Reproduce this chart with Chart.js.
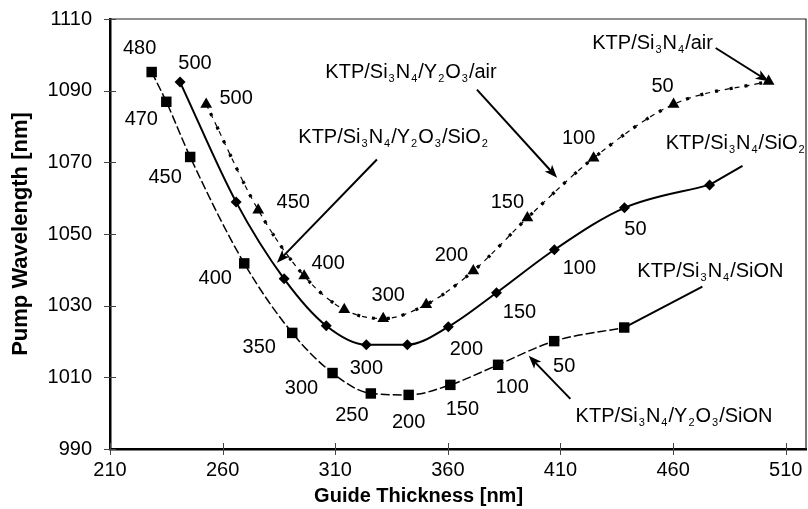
<!DOCTYPE html>
<html>
<head>
<meta charset="utf-8">
<script src="https://cdn.jsdelivr.net/npm/chart.js@4.4.1/dist/chart.umd.min.js"></script>
<style>
  html, body { margin: 0; padding: 0; background: #fff; }
  #wrap { width: 808px; height: 509px; }
</style>
</head>
<body>
<div id="wrap"><canvas id="chart" width="808" height="509"></canvas></div>
<script>
// Guide thickness [nm] vs pump wavelength [nm], one set per stack
const sqX = [228.5, 235.0, 245.6, 269.6, 290.9, 308.8, 325.8, 342.6, 361.1, 382.3, 407.2, 438.3];
const sqY = [1095.2, 1086.9, 1071.5, 1041.8, 1022.4, 1011.2, 1005.5, 1005.1, 1007.9, 1013.5, 1020.1, 1023.9];
const sqLabels = ['480', '470', '450', '400', '350', '300', '250', '200', '150', '100', '50', ''];

const diaX = [241.1, 266.0, 287.3, 306.0, 323.8, 342.0, 360.2, 381.6, 407.3, 438.4, 476.2];
const diaY = [1092.4, 1058.9, 1037.5, 1024.4, 1019.1, 1019.1, 1024.1, 1033.6, 1045.6, 1057.3, 1063.7];
const diaLabels = ['500', '', '', '', '300', '', '200', '150', '100', '50', ''];

const triX = [252.7, 275.8, 296.2, 314.0, 331.3, 350.4, 371.3, 395.3, 424.7, 460.2, 502.4];
const triY = [1086.2, 1056.7, 1038.3, 1028.9, 1026.4, 1030.3, 1039.7, 1054.5, 1071.2, 1086.2, 1092.6];
const triLabels = ['500', '450', '400', '', '300', '', '200', '150', '100', '50', ''];

const xTicks = [210, 260, 310, 360, 410, 460, 510];
const yTicks = [990, 1010, 1030, 1050, 1070, 1090, 1110];

// where each thickness label sits relative to its marker (px)
const sqOffsets = [[-12, -24], [-25, 18], [-25, 21], [-29, 15], [-33, 15], [-31, 15], [-19, 22], [0, 28], [12, 25], [14, 23], [10, 25], [0, 0]];
const diaOffsets = [[15, -19], [0, 0], [0, 0], [0, 0], [0, 24], [0, 0], [18, 23], [23, 20], [25, 19], [11, 22], [0, 0]];
const triOffsets = [[30, -6], [35, -8], [24, -12], [0, 0], [5, -23], [0, 0], [-22, -15], [-20, -15], [-15, -20], [-11, -18], [0, 0]];

// stack names; _n = subscript. "to" is either [dataset, index] or a data position
const notes = [
  { text: 'KTP/Si_3N_4/air', at: [424.1, 1101.6], from: [478.9, 1101.9], toPoint: [2, 10], head: true },
  { text: 'KTP/Si_3N_4/Y_2O_3/air', at: [305.6, 1093.6], from: [372.9, 1090.3], to: [408.5, 1065.7], head: true },
  { text: 'KTP/Si_3N_4/Y_2O_3/SiO_2', at: [293.6, 1075.5], from: [328.5, 1070.8], to: [284.1, 1042.0], head: true },
  { text: 'KTP/Si_3N_4/SiO_2', at: [456.7, 1073.7], from: [490.8, 1069.0], toPoint: [1, 10], head: false },
  { text: 'KTP/Si_3N_4/SiON', at: [444.1, 1037.9], from: [473.0, 1035.3], toPoint: [0, 11], head: false },
  { text: 'KTP/Si_3N_4/Y_2O_3/SiON', at: [416.7, 997.5], from: [414.4, 1004.0], to: [395.9, 1016.0], head: true }
];

const FONT = '"Liberation Sans", Arial, sans-serif';

const toPoints = (xs, ys) => xs.map((x, i) => ({ x: x, y: ys[i] }));

const frame = {
  id: 'frame',
  afterDraw(chart) {
    const { ctx, chartArea: a, scales: { x, y } } = chart;
    ctx.save();
    // thin top/right border
    ctx.strokeStyle = '#222';
    ctx.lineWidth = 1.2;
    ctx.beginPath();
    ctx.moveTo(a.left, a.top);
    ctx.lineTo(a.right, a.top);
    ctx.lineTo(a.right, a.bottom);
    ctx.stroke();
    // tick marks crossing the axes
    ctx.strokeStyle = '#444';
    ctx.lineWidth = 1;
    ctx.beginPath();
    xTicks.forEach(v => {
      const px = Math.round(x.getPixelForValue(v)) + 0.5;
      ctx.moveTo(px, a.bottom - 6);
      ctx.lineTo(px, a.bottom + 6);
    });
    yTicks.forEach(v => {
      const py = Math.round(y.getPixelForValue(v)) + 0.5;
      ctx.moveTo(a.left - 6, py);
      ctx.lineTo(a.left + 6, py);
    });
    ctx.stroke();
    // axis titles
    ctx.fillStyle = '#000';
    ctx.font = 'bold 20px ' + FONT;
    ctx.textAlign = 'center';
    ctx.textBaseline = 'alphabetic';
    ctx.fillText('Guide Thickness [nm]', x.getPixelForValue(347), 502);
    ctx.font = 'bold 22px ' + FONT;
    ctx.translate(27, (a.top + a.bottom) / 2);
    ctx.rotate(-Math.PI / 2);
    ctx.fillText('Pump Wavelength [nm]', 0, 0);
    ctx.restore();
  }
};

const pointLabels = {
  id: 'pointLabels',
  afterDatasetsDraw(chart) {
    const { ctx } = chart;
    const sets = [[sqLabels, sqOffsets], [diaLabels, diaOffsets], [triLabels, triOffsets]];
    ctx.save();
    ctx.fillStyle = '#000';
    ctx.font = '20px ' + FONT;
    ctx.textAlign = 'center';
    ctx.textBaseline = 'middle';
    sets.forEach(([labels, offs], d) => {
      chart.getDatasetMeta(d).data.forEach((pt, i) => {
        if (!labels[i]) return;
        ctx.fillText(labels[i], pt.x + offs[i][0], pt.y + offs[i][1]);
      });
    });
    ctx.restore();
  }
};

function drawRich(ctx, str, x, y) {
  const parts = str.split(/(_\d)/).filter(Boolean);
  parts.forEach(p => {
    if (p[0] === '_') {
      ctx.font = '11px ' + FONT;
      ctx.fillText(p[1], x + 1, y + 4);
      x += ctx.measureText(p[1]).width + 2;
    } else {
      ctx.font = '20px ' + FONT;
      ctx.fillText(p, x, y);
      x += ctx.measureText(p).width;
    }
  });
}

const annotations = {
  id: 'annotations',
  afterDatasetsDraw(chart) {
    const { ctx, scales: { x, y } } = chart;
    ctx.save();
    ctx.fillStyle = '#000';
    ctx.strokeStyle = '#000';
    ctx.lineWidth = 2;
    ctx.textAlign = 'left';
    ctx.textBaseline = 'alphabetic';
    notes.forEach(n => {
      drawRich(ctx, n.text, x.getPixelForValue(n.at[0]), y.getPixelForValue(n.at[1]));
      const x0 = x.getPixelForValue(n.from[0]);
      const y0 = y.getPixelForValue(n.from[1]);
      let x1, y1;
      if (n.toPoint) {
        const el = chart.getDatasetMeta(n.toPoint[0]).data[n.toPoint[1]];
        x1 = el.x; y1 = el.y;
      } else {
        x1 = x.getPixelForValue(n.to[0]);
        y1 = y.getPixelForValue(n.to[1]);
      }
      const ang = Math.atan2(y1 - y0, x1 - x0);
      const len = 13;
      ctx.beginPath();
      ctx.moveTo(x0, y0);
      if (n.head) {
        ctx.lineTo(x1 - Math.cos(ang) * len * 0.7, y1 - Math.sin(ang) * len * 0.7);
      } else {
        ctx.lineTo(x1, y1);
      }
      ctx.stroke();
      if (n.head) {
        ctx.beginPath();
        ctx.moveTo(x1, y1);
        ctx.lineTo(x1 - Math.cos(ang) * len + Math.sin(ang) * 5, y1 - Math.sin(ang) * len - Math.cos(ang) * 5);
        ctx.lineTo(x1 - Math.cos(ang) * len * 0.75, y1 - Math.sin(ang) * len * 0.75);
        ctx.lineTo(x1 - Math.cos(ang) * len - Math.sin(ang) * 5, y1 - Math.sin(ang) * len + Math.cos(ang) * 5);
        ctx.closePath();
        ctx.fill();
      }
    });
    ctx.restore();
  }
};

new Chart(document.getElementById('chart'), {
  type: 'line',
  data: {
    datasets: [
      {
        data: toPoints(sqX, sqY),
        borderColor: '#000',
        borderWidth: 1.5,
        borderDash: [9, 3],
        pointStyle: 'rect',
        pointRadius: 7.4,
        pointBackgroundColor: '#000',
        pointBorderWidth: 0,
        cubicInterpolationMode: 'monotone'
      },
      {
        data: toPoints(diaX, diaY),
        borderColor: '#000',
        borderWidth: 2,
        pointStyle: 'rectRot',
        pointRadius: 5.5,
        pointBackgroundColor: '#000',
        pointBorderWidth: 0,
        cubicInterpolationMode: 'monotone'
      },
      {
        data: toPoints(triX, triY),
        borderColor: '#000',
        borderWidth: 1.2,
        borderDash: [5, 5],
        pointStyle: 'triangle',
        pointRadius: 6.8,
        pointBackgroundColor: '#000',
        pointBorderWidth: 0,
        cubicInterpolationMode: 'monotone'
      },
      {
        // heavier dotted stroke laid over the same curve
        data: toPoints(triX, triY),
        borderColor: '#000',
        borderWidth: 3.2,
        borderDash: [3, 12],
        borderDashOffset: 5,
        pointRadius: 0,
        cubicInterpolationMode: 'monotone'
      }
    ]
  },
  options: {
    responsive: false,
    animation: false,
    layout: { autoPadding: false, padding: { top: 19, right: 2, left: 0, bottom: 0 } },
    plugins: {
      legend: { display: false },
      tooltip: { enabled: false }
    },
    scales: {
      x: {
        type: 'linear',
        min: 210,
        max: 519,
        afterBuildTicks: s => { s.ticks = xTicks.map(v => ({ value: v })); },
        afterFit: s => { s.height = 60; s.paddingLeft = 0; s.paddingRight = 0; },
        grid: { display: false, drawTicks: false },
        border: { display: true, color: '#000', width: 2.5 },
        ticks: { color: '#000', font: { family: FONT, size: 20 }, padding: 9, maxRotation: 0, autoSkip: false }
      },
      y: {
        type: 'linear',
        min: 990,
        max: 1110,
        afterBuildTicks: s => { s.ticks = yTicks.map(v => ({ value: v })); },
        afterFit: s => { s.width = 110; s.paddingTop = 0; s.paddingBottom = 0; },
        grid: { display: false, drawTicks: false },
        border: { display: true, color: '#000', width: 2.5 },
        ticks: {
          color: '#000',
          font: { family: FONT, size: 20 },
          padding: 18,
          autoSkip: false,
          callback: v => String(v)
        }
      }
    }
  },
  plugins: [frame, pointLabels, annotations]
});
</script>
</body>
</html>
